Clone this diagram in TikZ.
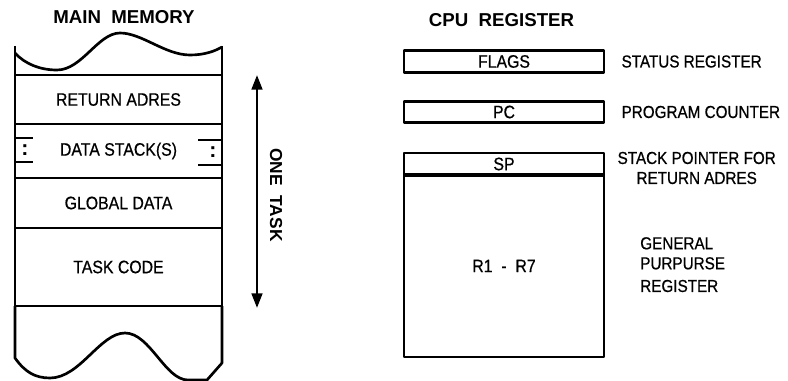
\documentclass[tikz,border=0pt]{standalone}
\usepackage{fontspec}
\setmainfont{Liberation Sans}
\newfontfamily\narrowfont[FakeStretch=0.88,FakeBold=0.6]{Liberation Sans}
\usepackage{tikz}
\usetikzlibrary{arrows.meta,positioning}
\tikzset{
  wall/.style={line width=2pt, line join=round},
  cell/.style={draw, wall, outer sep=0pt, minimum width=155.25pt, font=\narrowfont\fontsize{13.5}{15}\selectfont},
  reg/.style={draw, wall, outer sep=0pt, minimum width=150pt, font=\narrowfont\fontsize{13.5}{15}\selectfont},
  lab/.style={inner sep=0pt, font=\narrowfont\fontsize{13}{15}\selectfont},
  head/.style={inner sep=0pt, font=\bfseries\fontsize{14}{15}\selectfont},
  span/.style={{Triangle[length=11pt,width=8pt]}-{Triangle[length=11pt,width=8pt]}, line width=2pt},
}
\begin{document}
\begin{tikzpicture}[x=0.75pt, y=-0.75pt]
  \useasboundingbox (0,0) rectangle (788,381);
  % main memory
  \node[head] (memtitle) at (124,17) {MAIN\ \ MEMORY};
  \node[cell, minimum height=36.75pt] (ret) at (118.5,99.5) {RETURN ADRES};
  \node[cell, minimum height=40.5pt, below=0pt of ret] (stk) {DATA STACK(S)};
  \node[cell, minimum height=37.5pt, below=0pt of stk] (glob) {GLOBAL DATA};
  \node[cell, minimum height=58.5pt, below=0pt of glob] (code) {TASK CODE};
  \draw[wall] (15,46) -- (ret.north west);
  \draw[wall] (222,46) -- (ret.north east);
  \draw[wall] (15,53) .. controls (25,64) and (40,70) .. (57,70)
    .. controls (82,70) and (98,33) .. (120,33)
    .. controls (142,33) and (165,55) .. (190,55)
    .. controls (205,55) and (215,51) .. (222,47);
  \draw[wall] (code.south west) -- (15,358)
    .. controls (25,372) and (35,378) .. (50,378)
    .. controls (80,378) and (100,333) .. (125,333)
    .. controls (150,333) and (165,380) .. (188,380)
    -- (207,380) -- (222,363) -- (code.south east);
  % stack brackets
  \draw[wall] (15,138) -- (33,138) (15,162) -- (33,162);
  \draw[wall] (198,140) -- (222,140) (198,165) -- (222,165);
  \node[head, font=\bfseries\fontsize{16}{16}\selectfont] (lcol) at (25,150) {:};
  \node[head, font=\bfseries\fontsize{16}{16}\selectfont] (rcol) at (213,152) {:};
  % one task
  \coordinate (spantop) at (257,75);
  \coordinate (spanbot) at (257,308);
  \draw[span] (spantop) -- (spanbot);
  \node[head, font=\bfseries\fontsize{13}{15}\selectfont, rotate=-90] (onetask) at (276,195) {ONE\ \ TASK};
  % cpu register
  \node[head] (cputitle) at (501.5,20) {CPU\ \ REGISTER};
  \node[reg, minimum height=15.75pt] (flags) at (504,61.5) {FLAGS};
  \node[reg, minimum height=15pt] (pc) at (504,112) {PC};
  \node[reg, minimum height=16.5pt] (sp) at (504,164) {SP};
  \node[reg, minimum height=136.5pt, below=0pt of sp] (regs) {R1\ \ -\ \ R7};
  \draw[line width=3.6pt] (sp.south west) -- (sp.south east);
  \node[lab, right=13pt of flags] (flagslab) {STATUS REGISTER};
  \node[lab, right=13pt of pc] (pclab) {PROGRAM COUNTER};
  \node[lab, align=center, right=10pt of sp, yshift=-3pt] (splab) {STACK POINTER FOR\\RETURN ADRES};
  \node[lab, align=left, right=27pt of regs, yshift=1pt] (regslab) {GENERAL\\PURPURSE\\[2pt]REGISTER};
\end{tikzpicture}
\end{document}
